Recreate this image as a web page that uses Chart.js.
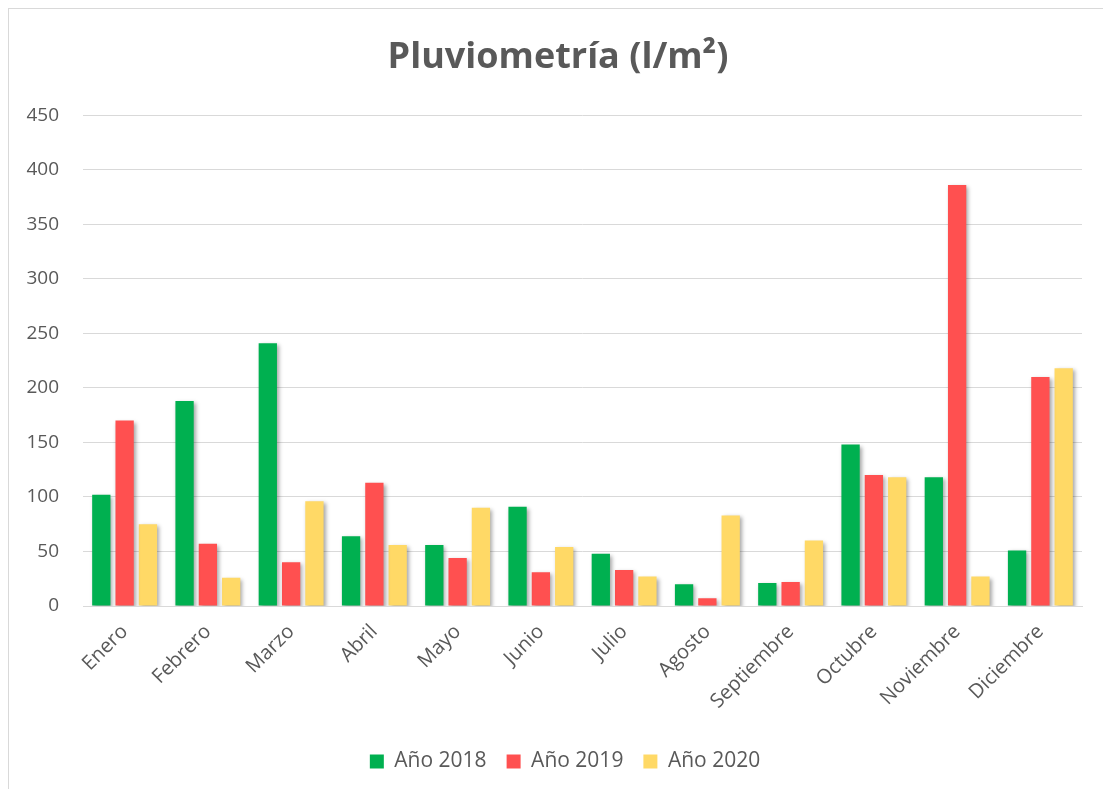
<!DOCTYPE html>
<html>
<head>
<meta charset="utf-8">
<script src="https://cdn.jsdelivr.net/npm/chart.js@4/dist/chart.umd.min.js"></script>
<style>
  html, body { margin: 0; padding: 0; background: #ffffff; }
  #wrap { position: relative; width: 1103px; height: 789px; }
  canvas { display: block; }
</style>
</head>
<body>
<div id="wrap"><canvas id="c" width="1103" height="789"></canvas></div>
<script>
const months = ["Enero","Febrero","Marzo","Abril","Mayo","Junio","Julio","Agosto","Septiembre","Octubre","Noviembre","Diciembre"];
const year2018 = [102, 188, 241, 64, 56, 91, 48, 20, 21, 148, 118, 51];
const year2019 = [170, 57, 40, 113, 44, 31, 33, 7, 22, 120, 386, 210];
const year2020 = [75, 26, 96, 56, 90, 54, 27, 83, 60, 118, 27, 218];
const seriesNames = ["Año 2018", "Año 2019", "Año 2020"];
const yTicks = [0, 50, 100, 150, 200, 250, 300, 350, 400, 450];

const TEXT = "#595959";
const FONT = "'Open Sans', 'Liberation Sans', sans-serif";

const framePlugin = {
  id: "frame",
  beforeDraw(chart) {
    const ctx = chart.ctx;
    ctx.save();
    ctx.fillStyle = "#ffffff";
    ctx.fillRect(0, 0, chart.width, chart.height);
    ctx.strokeStyle = "#d9d9d9";
    ctx.lineWidth = 1;
    ctx.strokeRect(8.5, 8.5, 1120, 800);
    ctx.restore();
  },
  afterLayout(chart) {
    // centre title and legend over the whole frame, as in the reference
    if (chart.titleBlock) { chart.titleBlock.left += 13; chart.titleBlock.right += 13; }
    if (chart.legend) { chart.legend.left += 20; chart.legend.right += 20; }
  }
};

const shadowPlugin = {
  id: "barShadow",
  beforeDatasetsDraw(chart) {
    const ctx = chart.ctx;
    ctx.save();
    ctx.shadowColor = "rgba(0,0,0,0.35)";
    ctx.shadowBlur = 4;
    ctx.shadowOffsetX = 2;
    ctx.shadowOffsetY = 2;
  },
  afterDatasetsDraw(chart) {
    chart.ctx.restore();
  }
};

new Chart(document.getElementById("c"), {
  type: "bar",
  data: {
    labels: months,
    datasets: [
      { label: seriesNames[0], data: year2018, backgroundColor: "#00B050" },
      { label: seriesNames[1], data: year2019, backgroundColor: "#FF5050" },
      { label: seriesNames[2], data: year2020, backgroundColor: "#FFD966" }
    ]
  },
  options: {
    responsive: false,
    animation: false,
    devicePixelRatio: 1,
    layout: { padding: { left: 8, right: 21, top: 8, bottom: 7 } },
    datasets: { bar: { categoryPercentage: 0.84, barPercentage: 0.785 } },
    plugins: {
      title: {
        display: true,
        text: "Pluviometría (l/m²)",
        color: TEXT,
        font: { family: FONT, size: 36, weight: "bold" },
        padding: { top: 28, bottom: 36 }
      },
      legend: {
        position: "bottom",
        labels: {
          color: TEXT,
          font: { family: FONT, size: 21 },
          boxWidth: 14,
          boxHeight: 14,
          padding: 20
        }
      },
      tooltip: { enabled: false }
    },
    scales: {
      x: {
        grid: { display: false, drawTicks: false },
        border: { display: true, color: "#d9d9d9", width: 1 },
        ticks: {
          color: TEXT,
          font: { family: FONT, size: 20 },
          maxRotation: 45,
          minRotation: 45,
          padding: 14,
          autoSkip: false
        },
        afterFit(scale) { scale.height = 125; }
      },
      y: {
        min: 0,
        max: 450,
        afterBuildTicks(scale) { scale.ticks = yTicks.map(v => ({ value: v })); },
        grid: { color: "#d9d9d9", lineWidth: 1, drawTicks: false },
        border: { display: false },
        ticks: {
          color: TEXT,
          font: { family: FONT, size: 19 },
          padding: 24
        },
        afterFit(scale) { scale.width = 75; }
      }
    }
  },
  plugins: [framePlugin, shadowPlugin]
});
</script>
</body>
</html>
